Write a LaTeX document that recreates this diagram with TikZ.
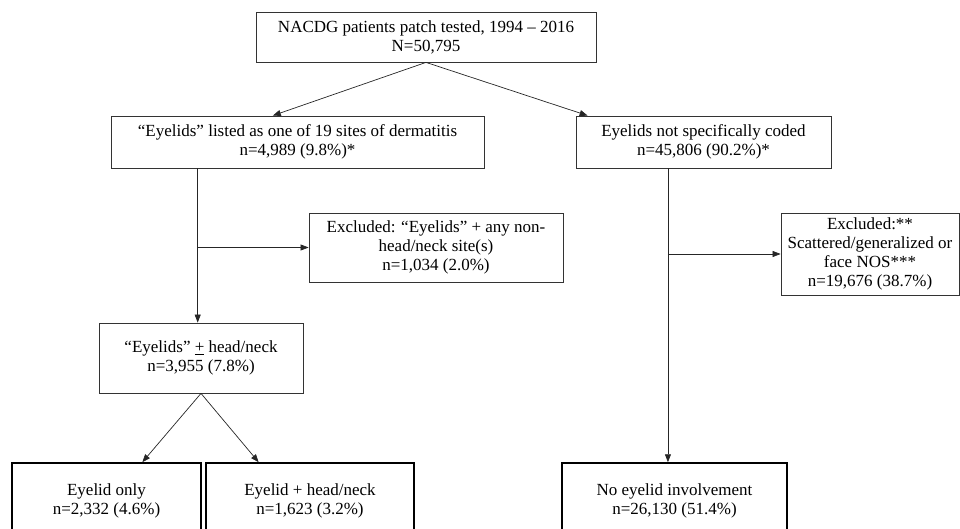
\documentclass[tikz,border=0pt]{standalone}
\usepackage{fontspec}
\setmainfont{Liberation Serif}
\usetikzlibrary{arrows.meta,calc}

\tikzset{
    box/.style={draw=black!80, line width=0.8pt, inner sep=0pt, align=center,
        font=\fontsize{17}{19}\selectfont},
    endbox/.style={box, draw=black, line width=1.5pt},
    link/.style={draw=black!85, line width=0.7pt, -{Triangle[length=8pt,width=6pt]}}
}

\begin{document}
\begin{tikzpicture}[x=1pt,y=-1pt]
        \useasboundingbox (0,0) rectangle (960,529);

        \node[box, minimum width=340pt, minimum height=50pt] (total) at (426,37)
            {NACDG patients patch tested, 1994 -- 2016\\N=50,795}; %total
        \node[box, minimum width=373pt, minimum height=52pt] (lids) at (297.5,142)
            {“Eyelids” listed as one of 19 sites of dermatitis\\n=4,989 (9.8\%)*}; %lids
        \node[box, minimum width=255pt, minimum height=52pt] (notcoded) at (703.5,142)
            {Eyelids not specifically coded\\n=45,806 (90.2\%)*}; %notcoded
        \node[box, minimum width=254pt, minimum height=69pt] (exclA) at (436,247.5)
            {Excluded: “Eyelids” + any non-\\head/neck site(s)\\n=1,034 (2.0\%)}; %exclA
        \node[box, minimum width=178pt, minimum height=82pt] (exclB) at (870,254)
            {Excluded:**\\Scattered/generalized or\\face NOS***\\n=19,676 (38.7\%)}; %exclB
        \node[box, minimum width=204pt, minimum height=70pt] (headneck) at (201,358)
            {“Eyelids” \underline{+} head/neck\\n=3,955 (7.8\%)}; %headneck

        \node[endbox, minimum width=189pt, minimum height=76pt] (lidonly) at (106.5,501)
            {Eyelid only\\n=2,332 (4.6\%)}; %lidonly
        \node[endbox, minimum width=208pt, minimum height=76pt] (lidhn) at (310,501)
            {Eyelid + head/neck\\n=1,623 (3.2\%)}; %lidhn
        \node[endbox, minimum width=225pt, minimum height=76pt] (nolid) at (674.5,501)
            {No eyelid involvement\\n=26,130 (51.4\%)}; %nolid

        % split points under the upper boxes
        \coordinate (lsplit) at ($(lids.south west)!0.233!(lids.south east)$);
        \coordinate (rsplit) at ($(notcoded.south west)!0.361!(notcoded.south east)$);

        \draw[link] (total.south) -- ($(lids.north west)!0.434!(lids.north east)$);
        \draw[link] (total.south) -- ($(notcoded.north west)!0.047!(notcoded.north east)$);

        \draw[link] (lsplit) -- (lsplit |- headneck.north);
        \draw[link] (lsplit |- exclA.west) -- (exclA.west);
        \draw[link] (rsplit) -- (rsplit |- nolid.north);
        \draw[link] (rsplit |- exclB.west) -- (exclB.west);

        \draw[link] (headneck.south) -- ($(lidonly.north west)!0.688!(lidonly.north east)$);
        \draw[link] (headneck.south) -- ($(lidhn.north west)!0.255!(lidhn.north east)$);
    \end{tikzpicture}
\end{document}
